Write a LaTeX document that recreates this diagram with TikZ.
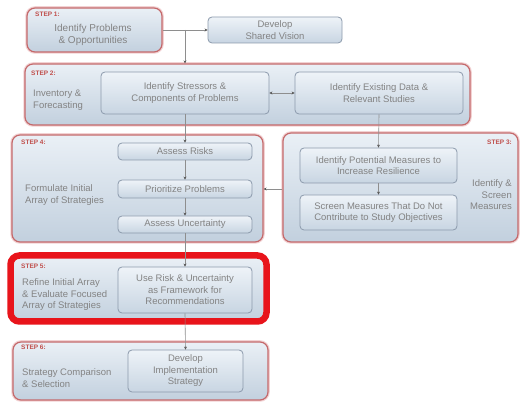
\documentclass[tikz,border=0pt]{standalone}
\usepackage{fontspec}
\setmainfont{Liberation Sans}
\usetikzlibrary{arrows.meta}
\definecolor{txtgray}{HTML}{838383}
\definecolor{stepred}{HTML}{C4696B}
\definecolor{stephalo}{HTML}{F2D2D3}
\definecolor{hotred}{HTML}{E8141B}
\definecolor{labelred}{HTML}{C0504D}
\definecolor{boxtop}{HTML}{EAF0F6}
\definecolor{boxbot}{HTML}{C2D0DE}
\definecolor{tasktop}{HTML}{EEF3F8}
\definecolor{taskbot}{HTML}{C8D5E2}
\definecolor{taskline}{HTML}{8C9AAC}
\definecolor{linkgray}{HTML}{8E8E8E}
\begin{document}
\begin{tikzpicture}[x=1pt,y=-1pt,
  stepbox/.style={draw=stepred, line width=1.2pt, rounded corners=8pt,
    top color=boxtop, bottom color=boxbot, inner sep=0pt,
    preaction={draw=stephalo, line width=3.5pt}},
  hotbox/.style={draw=hotred, line width=6.5pt, rounded corners=9pt,
    top color=boxtop, bottom color=boxbot, inner sep=0pt},
  task/.style={draw=taskline, line width=0.8pt, rounded corners=4pt,
    top color=tasktop, bottom color=taskbot, inner sep=1pt,
    align=center, text=txtgray, font=\fontsize{9.5}{11.5}\selectfont},
  steplabel/.style={anchor=west, text=labelred, inner sep=0pt,
    font=\fontsize{6.5}{7.5}\selectfont\bfseries},
  sidetext/.style={anchor=west, align=left, text=txtgray, inner sep=0pt,
    font=\fontsize{9.5}{11.5}\selectfont},
  link/.style={draw=linkgray, line width=0.6pt,
    -{Stealth[length=3pt,width=3pt,color=black!65]}},
  twoway/.style={draw=linkgray, line width=0.6pt,
    {Stealth[length=3pt,width=3pt,color=black!65]}-{Stealth[length=3pt,width=3pt,color=black!65]}}]
\useasboundingbox (0,0) rectangle (520,403);
\fill[white] (0,0) rectangle (520,403);

% outer step frames
\node[stepbox, minimum width=135pt, minimum height=44pt] (s1) at (94.5,30) {};
\node[stepbox, minimum width=445pt, minimum height=61pt] (s2) at (247.5,94.5) {};
\node[stepbox, minimum width=251pt, minimum height=107pt] (s4) at (137.5,188.5) {};
\node[stepbox, minimum width=235pt, minimum height=109pt] (s3) at (400.5,187.5) {};
\node[hotbox, minimum width=256pt, minimum height=66pt] (s5) at (138.5,288.5) {};
\node[stepbox, minimum width=255pt, minimum height=58pt] (s6) at (140.5,371) {};

% step 1
\node[steplabel] (l1) at (35,14) {STEP 1:};
\node[align=center, text=txtgray, inner sep=0pt, font=\fontsize{10}{12}\selectfont] (t1) at (93,35) {Identify Problems\\\& Opportunities};
\node[task, minimum width=134pt, minimum height=26pt] (vision) at (275,30) {Develop\\Shared Vision};

% step 2
\node[steplabel] (l2) at (31,73) {STEP 2:};
\node[sidetext] (d2) at (33,100) {Inventory \&\\Forecasting};
\node[task, minimum width=168pt, minimum height=42pt] (stress) at (185,93) {Identify Stressors \&\\Components of Problems};
\node[task, minimum width=168pt, minimum height=42pt] (data) at (379,93) {Identify Existing Data \&\\Relevant Studies};

% step 4
\node[steplabel] (l4) at (21,142) {STEP 4:};
\node[sidetext] (d4) at (25,195) {Formulate Initial\\Array of Strategies};
\node[task, minimum width=134pt, minimum height=17pt] (risks) at (185,151.5) {Assess Risks};
\node[task, minimum width=134pt, minimum height=18pt] (prio) at (185,189) {Prioritize Problems};
\node[task, minimum width=134pt, minimum height=17pt] (unc) at (185,224.5) {Assess Uncertainty};

% step 3
\node[steplabel, anchor=east] (l3) at (512,142) {STEP 3:};
\node[sidetext, anchor=east, align=right] (d3) at (512,195) {Identify \&\\Screen\\Measures};
\node[task, minimum width=157pt, minimum height=35pt] (pot) at (378.5,165.5) {Identify Potential Measures to\\Increase Resilience};
\node[task, minimum width=157pt, minimum height=35pt] (screen) at (378.5,212.5) {Screen Measures That Do Not\\Contribute to Study Objectives};

% step 5
\node[steplabel] (l5) at (21,266) {STEP 5:};
\node[sidetext] (d5) at (22,295) {Refine Initial Array\\\& Evaluate Focused\\Array of Strategies};
\node[task, minimum width=134pt, minimum height=46pt] (userisk) at (185,290) {Use Risk \& Uncertainty\\as Framework for\\Recommendations};

% step 6
\node[steplabel] (l6) at (21,347) {STEP 6:};
\node[sidetext] (d6) at (22,378) {Strategy Comparison\\\& Selection};
\node[task, minimum width=115pt, minimum height=42pt] (impl) at (185.5,371) {Develop\\Implementation\\Strategy};

% connectors
\coordinate (j1) at (185,30);
\draw[link] (s1.east) -- (vision.west);
\draw[link] (j1) -- (s2.north -| j1);
\draw[link] (stress.south) -- (risks.north);
\draw[twoway] (stress.east) -- (data.west);
\draw[link] (data.south) -- (pot.north);
\draw[link] (pot.south) -- (screen.north);
\draw[link] (s3.west |- prio) -- (s4.east |- prio);
\draw[link] (risks.south) -- (prio.north);
\draw[link] (prio.south) -- (unc.north);
\draw[link] (unc.south) -- (userisk.north);
\draw[link] (userisk.south) -- (impl.north);
\end{tikzpicture}
\end{document}
